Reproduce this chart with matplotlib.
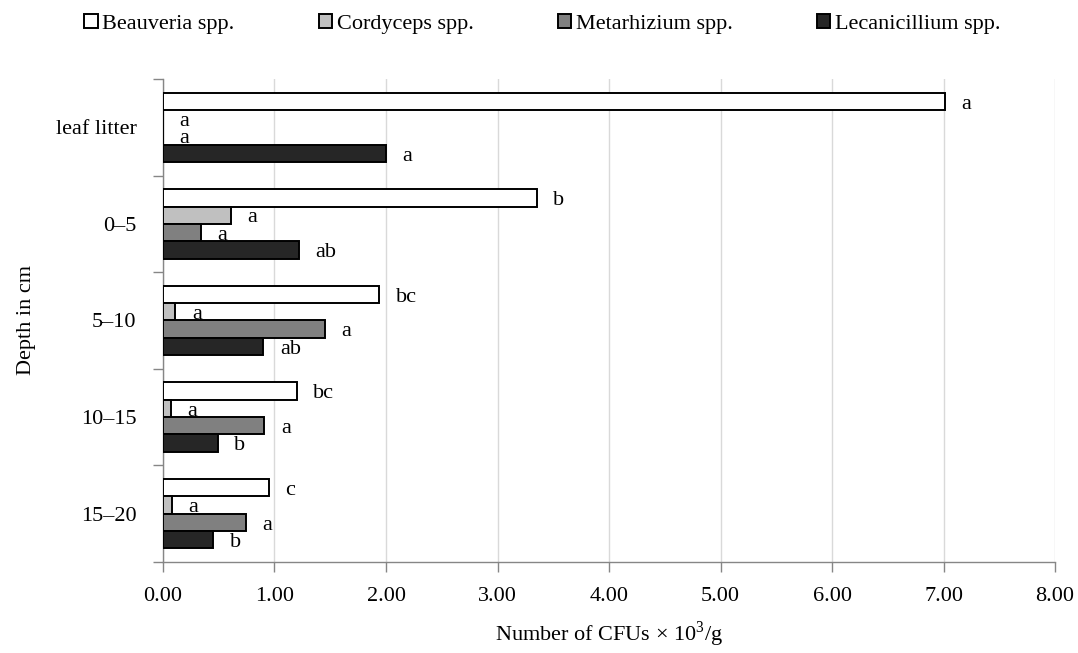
import numpy as np
import matplotlib
matplotlib.use("Agg")
import matplotlib.pyplot as plt

plt.rcParams['font.family'] = ['Liberation Serif', 'DejaVu Serif']
plt.rcParams['mathtext.fontset'] = 'custom'
plt.rcParams['mathtext.rm'] = 'Liberation Serif'

depths = ["leaf litter", "0–5", "5–10", "10–15", "15–20"]
species = ["Beauveria spp.", "Cordyceps spp.", "Metarhizium spp.", "Lecanicillium spp."]

beauveria = [7.01, 3.35, 1.94, 1.20, 0.95]
cordyceps = [0.00, 0.61, 0.11, 0.07, 0.08]
metarhizium = [0.00, 0.34, 1.45, 0.91, 0.74]
lecanicillium = [2.00, 1.22, 0.90, 0.49, 0.45]

beauveria_letters = ["a", "b", "bc", "bc", "c"]
cordyceps_letters = ["a", "a", "a", "a", "a"]
metarhizium_letters = ["a", "a", "a", "a", "a"]
lecanicillium_letters = ["a", "ab", "ab", "b", "b"]

colors = ["#ffffff", "#c0c0c0", "#808080", "#262626"]

values = [beauveria, cordyceps, metarhizium, lecanicillium]
letters = [beauveria_letters, cordyceps_letters, metarhizium_letters, lecanicillium_letters]

fs = 16

fig = plt.figure(figsize=(10.78, 6.53), dpi=100)
ax = fig.add_axes([0.1512, 0.1394, 0.8275, 0.7396])

y = np.arange(len(depths))
h = 0.18
offsets = [-1.5 * h, -0.5 * h, 0.5 * h, 1.5 * h]

for i in range(4):
    ax.barh(y + offsets[i], values[i], height=h, color=colors[i],
            edgecolor="black", linewidth=1.4, label=species[i], zorder=3)
    for j in range(len(depths)):
        ax.annotate(letters[i][j], (values[i][j], y[j] + offsets[i]),
                    xytext=(12, -2), textcoords="offset points",
                    ha="left", va="center", fontsize=fs, zorder=4)

ax.set_xlim(0, 8)
ax.set_ylim(len(depths) - 0.5, -0.5)
ax.set_xticks(np.arange(0, 9, 1))
ax.set_xticklabels([f"{v:.2f}" for v in np.arange(0, 9, 1)], fontsize=fs)
ax.set_yticks(y)
ax.set_yticklabels(depths, fontsize=fs)
ax.set_yticks(np.arange(-0.5, len(depths), 1), minor=True)

ax.tick_params(axis="y", which="major", length=0, pad=19)
ax.tick_params(axis="y", which="minor", length=7, color="#868686", width=1)
ax.tick_params(axis="x", length=7, color="#868686", width=1, pad=11)

ax.grid(axis="x", color="#d9d9d9", linewidth=1, zorder=0)
for s in ["top", "right"]:
    ax.spines[s].set_visible(False)
for s in ["left", "bottom"]:
    ax.spines[s].set_color("#868686")
    ax.spines[s].set_linewidth(1)

ax.set_xlabel("Number of CFUs × 10$^3$/g", fontsize=fs, labelpad=10)
ax.set_ylabel("Depth in cm", fontsize=fs, labelpad=14)

fig.legend(loc="center", bbox_to_anchor=(0.503, 0.963), ncol=4, frameon=False,
           fontsize=fs, handlelength=0.6, handleheight=0.6, handletextpad=0.2,
           columnspacing=3.8)

fig.savefig("out.png", dpi=100)
